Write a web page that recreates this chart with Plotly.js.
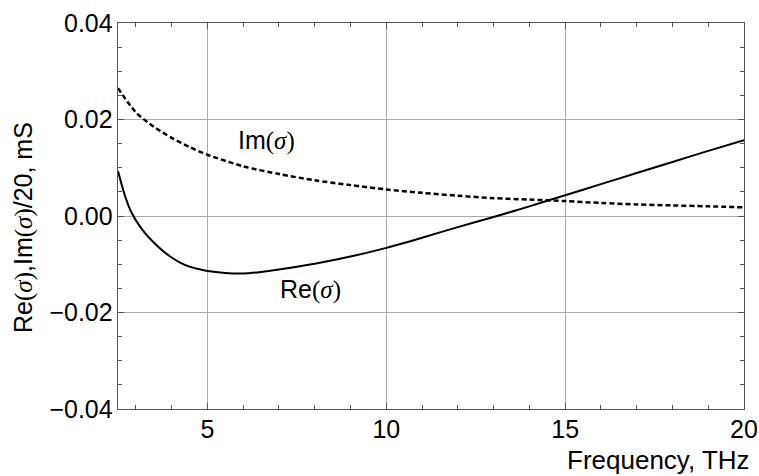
<!DOCTYPE html>
<html>
<head>
<meta charset="utf-8">
<script src="https://cdn.plot.ly/plotly-3.0.1.min.js"></script>
<style>html,body{margin:0;padding:0;background:#fff;}#chart{width:759px;height:476px;}</style>
</head>
<body>
<div id="chart"></div>
<script>
// Frequency (THz) and curve values
const reFreq = [2.5, 2.6, 2.7, 2.8, 2.9, 3.0, 3.25, 3.5, 3.75, 4.0, 4.25, 4.5, 4.75, 5, 5.5, 6, 6.5, 7, 8, 9, 10, 11, 12, 13, 14, 15, 16, 17, 18, 19, 20];
const reVals = [0.0093, 0.0066, 0.0041, 0.0020, 0.0004, -0.0009, -0.0035, -0.0055, -0.0072, -0.0086, -0.0097, -0.0105, -0.0110, -0.0114, -0.0118, -0.0119, -0.0116, -0.0111, -0.0099, -0.0084, -0.0066, -0.0045, -0.0023, -0.0002, 0.0020, 0.0043, 0.0066, 0.0089, 0.0112, 0.0135, 0.0157];
const imFreq = [2.5, 3, 3.5, 4, 4.5, 5, 6, 7, 8, 9, 10, 11, 12, 13, 14, 15, 16, 17, 18, 19, 20];
const imVals = [0.0265, 0.0215, 0.0185, 0.0162, 0.0143, 0.0127, 0.0103, 0.0087, 0.0074, 0.0064, 0.0055, 0.0048, 0.0042, 0.0037, 0.0034, 0.0031, 0.0027, 0.0024, 0.0022, 0.0020, 0.0018];
const xTicks = [5, 10, 15, 20];
const yTicks = [-0.04, -0.02, 0.00, 0.02, 0.04];
const yTickText = ['\u22120.04', '\u22120.02', '0.00', '0.02', '0.04'];

const serif = 'Liberation Serif, Times New Roman, serif';
const sig = '<span style="font-family:' + serif + '">(<i>σ</i>)</span>';

const traces = [
  {x: reFreq, y: reVals, mode: 'lines', line: {color: '#000', width: 2, shape: 'spline', smoothing: 0.8}, hoverinfo: 'none'},
  {x: imFreq, y: imVals, mode: 'lines', line: {color: '#000', width: 2.5, dash: '5px,3px', shape: 'spline', smoothing: 0.8}, hoverinfo: 'none'}
];

const axisCommon = {
  showline: true, linecolor: '#555', linewidth: 1.3, mirror: 'allticks',
  ticks: 'inside', ticklen: 6, tickcolor: '#555', tickwidth: 1,
  showgrid: true, gridcolor: '#aaa', gridwidth: 1, zeroline: false,
  tickfont: {family: 'Liberation Sans, Arial, sans-serif', size: 25, color: '#000'}
};

const layout = {
  width: 759, height: 476,
  margin: {l: 118, r: 15, t: 23, b: 67},
  paper_bgcolor: '#fff', plot_bgcolor: '#fff',
  showlegend: false,
  font: {family: 'Liberation Sans, Arial, sans-serif', size: 25, color: '#000'},
  xaxis: Object.assign({}, axisCommon, {
    range: [2.5, 20], tickmode: 'array', tickvals: xTicks, ticktext: xTicks.map(String),
    ticklabelstandoff: -2,
    minor: {dtick: 1, tick0: 0, ticks: 'inside', ticklen: 4, tickcolor: '#555', showgrid: false}
  }),
  yaxis: Object.assign({}, axisCommon, {
    range: [-0.04, 0.04], tickmode: 'array', tickvals: yTicks, ticktext: yTickText,
    ticklabelstandoff: -1,
    minor: {dtick: 0.005, tick0: 0, ticks: 'inside', ticklen: 4, tickcolor: '#555', showgrid: false}
  }),
  annotations: [
    {x: 6.65, y: 0.0157, xref: 'x', yref: 'y', text: 'Im' + sig, showarrow: false, font: {size: 25, color: '#000'}},
    {x: 7.88, y: -0.0153, xref: 'x', yref: 'y', text: 'Re' + sig, showarrow: false, font: {size: 25, color: '#000'}},
    {x: -0.1518, y: 0.4715, xref: 'paper', yref: 'paper', xanchor: 'center', yanchor: 'middle', textangle: -90,
     text: 'Re' + sig + ',Im' + sig + '/20, mS', showarrow: false, font: {size: 25, color: '#000'}},
    {x: 1, y: 0, xref: 'paper', yref: 'paper', xanchor: 'right', yanchor: 'middle', xshift: 8, yshift: -51,
     text: 'Frequency, THz', showarrow: false, font: {size: 26, color: '#000'}}
  ]
};

Plotly.newPlot('chart', traces, layout, {staticPlot: true, displayModeBar: false});
</script>
</body>
</html>
